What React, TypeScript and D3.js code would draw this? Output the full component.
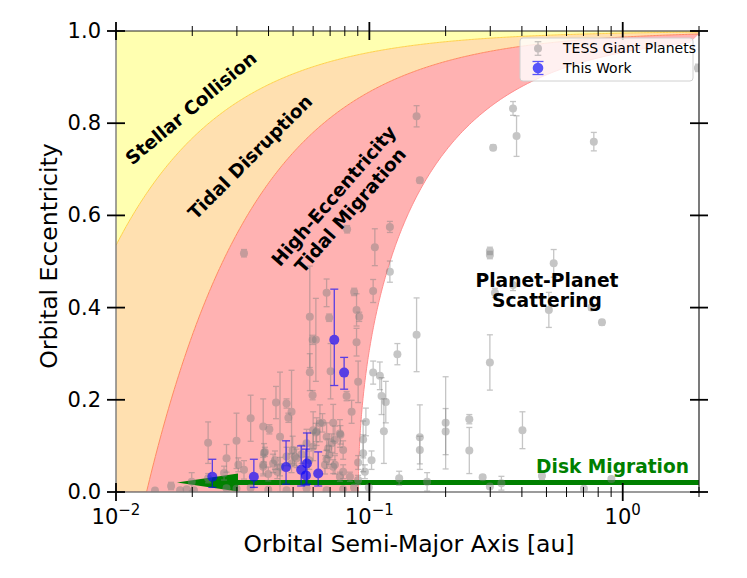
import React from 'react';
import * as d3 from 'd3';

// TESS giant planets (semi-major axis [au], eccentricity, 1-sigma error)
const tessA = [
  0.0320, 0.0817, 0.1205, 0.1051, 0.1536, 0.1582, 0.369, 0.381, 0.308, 0.769,
  1.98, 0.299, 0.299, 0.534, 0.1205, 0.313, 0.369, 0.511, 0.753, 0.828,
  0.1536, 0.129, 0.299, 0.110, 0.1117, 0.1161, 0.1141, 0.1582, 0.1582, 0.200,
  0.200, 0.248, 0.248, 0.402, 0.1311, 0.169, 0.280, 0.299, 0.332, 0.480,
  0.703, 0.902, 0.0678, 0.0871, 0.1035, 0.0890, 0.0912, 0.0694, 0.0582, 0.0615,
  0.0597, 0.0890, 0.0582, 0.0703, 0.0903, 0.0597, 0.0813, 0.1035, 0.0428, 0.0471,
  0.0493, 0.0479, 0.0340, 0.0851, 0.0381, 0.0403, 0.0231, 0.0299, 0.0273, 0.0387,
  0.0444, 0.0498, 0.0508, 0.0540, 0.0417, 0.0320, 0.0381, 0.0399, 0.0433, 0.0619,
  0.0678, 0.0720, 0.0765, 0.0788, 0.0688, 0.0600, 0.0579, 0.0678, 0.0720, 0.0765,
  0.0903, 0.0903, 0.0945, 0.0969, 0.0945, 0.102, 0.0960, 0.0267, 0.0231, 0.0165,
  0.01425, 0.0199, 0.0471, 0.0565, 0.0600, 0.0638, 0.0731, 0.0304, 0.0384, 0.0381,
  0.0179, 0.0190, 0.0203, 0.0653, 0.0615, 0.0769, 0.0710, 0.0424, 0.0516, 0.0694,
  0.0444, 0.0493, 0.0731, 0.0668, 0.0788, 0.0838, 0.0340, 0.0399, 0.0471, 0.0565,
  0.0678, 0.0788, 0.0273, 0.0299, 0.0870, 0.0995,
];
const tessE = [
  0.518, 0.570, 0.575, 0.531, 0.815, 0.676, 0.832, 0.772, 0.747, 0.760,
  0.920, 0.523, 0.514, 0.496, 0.478, 0.432, 0.449, 0.395, 0.400, 0.368,
  0.341, 0.299, 0.281, 0.252, 0.208, 0.195, 0.132, 0.119, 0.091, 0.150,
  0.131, 0.158, 0.090, 0.134, 0.030, 0.022, 0.032, 0.012, 0.019, 0.035,
  0.007, 0.028, 0.432, 0.434, 0.436, 0.395, 0.380, 0.378, 0.380, 0.330,
  0.330, 0.325, 0.260, 0.262, 0.239, 0.210, 0.208, 0.259, 0.194, 0.192,
  0.174, 0.161, 0.160, 0.174, 0.142, 0.136, 0.107, 0.111, 0.073, 0.087,
  0.120, 0.091, 0.077, 0.082, 0.062, 0.048, 0.055, 0.039, 0.044, 0.131,
  0.120, 0.150, 0.127, 0.091, 0.095, 0.098, 0.069, 0.071, 0.055, 0.033,
  0.064, 0.026, 0.114, 0.152, 0.084, 0.069, 0.044, 0.041, 0.030, 0.013,
  0.003, 0.022, 0.077, 0.106, 0.134, 0.149, 0.113, 0.059, 0.085, 0.059,
  0.004, 0.006, 0.004, 0.150, 0.129, 0.124, 0.106, 0.069, 0.073, 0.080,
  0.055, 0.062, 0.059, 0.059, 0.044, 0.033, 0.009, 0.005, 0.004, 0.008,
  0.004, 0.006, 0.008, 0.007, 0.010, 0.010,
];
const tessErr = [
  0.008, 0.008, 0.012, 0.040, 0.023, 0.006, 0.015, 0.044, 0.006, 0.020,
  0.008, 0.008, 0.008, 0.030, 0.023, 0.010, 0.012, 0.038, 0.006, 0.006,
  0.080, 0.023, 0.060, 0.030, 0.040, 0.045, 0.070, 0.070, 0.030, 0.100,
  0.050, 0.010, 0.050, 0.040, 0.015, 0.020, 0.005, 0.005, 0.015, 0.008,
  0.004, 0.005, 0.030, 0.008, 0.025, 0.035, 0.010, 0.008, 0.110, 0.090,
  0.010, 0.030, 0.040, 0.060, 0.045, 0.010, 0.010, 0.025, 0.035, 0.010,
  0.090, 0.010, 0.050, 0.025, 0.060, 0.010, 0.045, 0.060, 0.030, 0.010,
  0.140, 0.030, 0.020, 0.020, 0.020, 0.020, 0.020, 0.015, 0.015, 0.030,
  0.030, 0.040, 0.030, 0.020, 0.020, 0.030, 0.020, 0.020, 0.015, 0.010,
  0.015, 0.010, 0.040, 0.030, 0.040, 0.020, 0.015, 0.015, 0.010, 0.008,
  0.003, 0.020, 0.020, 0.030, 0.040, 0.040, 0.030, 0.015, 0.020, 0.020,
  0.003, 0.003, 0.003, 0.020, 0.020, 0.020, 0.020, 0.020, 0.020, 0.020,
  0.020, 0.020, 0.020, 0.020, 0.015, 0.010, 0.005, 0.004, 0.004, 0.005,
  0.004, 0.004, 0.005, 0.005, 0.006, 0.006,
];

// This work
const workA = [0.0240, 0.0350, 0.0469, 0.0538, 0.0562, 0.0567, 0.0628, 0.0727, 0.0795];
const workE = [0.033, 0.033, 0.054, 0.048, 0.036, 0.062, 0.040, 0.330, 0.259];
const workErrUp = [0.038, 0.038, 0.057, 0.052, 0.057, 0.066, 0.047, 0.110, 0.033];
const workErrDn = [0.023, 0.023, 0.037, 0.035, 0.021, 0.045, 0.027, 0.099, 0.036];

// region boundaries (au)
const R_SUN_AU = 0.00465;   // periastron = stellar radius
const Q_ROCHE = 0.0132;     // periastron = tidal disruption limit
const A_FINAL = 0.0905;     // a(1-e^2) for high-eccentricity migration

// disk migration arrow
const arrowFromA = 2.5;
const arrowToA = 0.0174;
const arrowHeadA = 0.0303;
const arrowE = 0.0206;
const arrowHeadHalf = 0.0195;
const arrowShaftHalf = 0.0055;

const xMajor = [0.01, 0.1, 1];
const xMajorExp = ['\u22122', '\u22121', '0'];
const yTicks = [0, 0.2, 0.4, 0.6, 0.8, 1.0];

const W = 747;
const H = 578;
const FONT = 'DejaVu Sans, sans-serif';

export default function App() {
  const x = d3.scaleLog().domain([0.01, 2]).range([116, 699]);
  const y = d3.scaleLinear().domain([0, 1]).range([492, 31]);
  const [x0, x1] = x.range();
  const [y0, y1] = y.range();

  const grid = d3.range(0, 401).map(i => 0.01 * Math.pow(200, i / 400));
  const eCol = (a: number) => Math.max(0, 1 - R_SUN_AU / a);
  const eRoche = (a: number) => Math.max(0, 1 - Q_ROCHE / a);

  const line = d3.line<[number, number]>();
  const pt = (a: number, e: number): [number, number] => [x(a), y(e)];

  // yellow: stellar collision (curve -> e=1)
  const yellow = [...grid.map(a => pt(a, eCol(a))), pt(2, 1), pt(0.01, 1)];
  // orange: tidal disruption (roche -> collision)
  const orange = [...grid.map(a => pt(a, eCol(a))), ...grid.slice().reverse().map(a => pt(a, eRoche(a)))];
  // red: high-e migration (track -> roche)
  const hemTrack: [number, number][] = d3.range(0, 201)
    .map(i => (i / 200) * 0.99)
    .map(e => [A_FINAL / (1 - e * e), e] as [number, number])
    .filter(d => d[0] <= 2.2);
  const red = [
    pt(0.01, 0),
    ...hemTrack.map(d => pt(d[0], d[1])),
    ...grid.slice().reverse().map(a => pt(a, eRoche(a))),
  ];

  const xMinor: number[] = [];
  [0.01, 0.1, 1].forEach(k => d3.range(2, 10).forEach(m => { if (m * k <= 2.0001) xMinor.push(m * k); }));

  const arrowPts: [number, number][] = [
    pt(arrowToA, arrowE),
    pt(arrowHeadA, arrowE + arrowHeadHalf),
    pt(arrowHeadA, arrowE + arrowShaftHalf),
    pt(arrowFromA, arrowE + arrowShaftHalf),
    pt(arrowFromA, arrowE - arrowShaftHalf),
    pt(arrowHeadA, arrowE - arrowShaftHalf),
    pt(arrowHeadA, arrowE - arrowHeadHalf),
  ];

  return (
    <svg width={W} height={H} style={{ position: 'absolute', left: 0, top: 0, background: '#fff' }} fontFamily={FONT}>
      <defs>
        <clipPath id="plot">
          <rect x={x0} y={y1} width={x1 - x0} height={y0 - y1} />
        </clipPath>
      </defs>
      <g clipPath="url(#plot)">
        <path d={line(yellow) + 'Z'} fill="#ffffb0" />
        <path d={line(orange) + 'Z'} fill="#ffe0b0" />
        <path d={line(red) + 'Z'} fill="#ffb2b2" />
        <path d={line(grid.map(a => pt(a, eCol(a))))!} fill="none" stroke="#ffd24a" strokeWidth={1} />
        <path d={line(grid.map(a => pt(a, eRoche(a))))!} fill="none" stroke="#ff8a60" strokeWidth={1} />
        <path d={line(hemTrack.map(d => pt(d[0], d[1])))!} fill="none" stroke="#ff8c8c" strokeWidth={1} />

        <path d={line(arrowPts) + 'Z'} fill="#008000" />

        {tessA.map((a, i) => {
          const cx = x(a);
          const lo = y(Math.max(0, tessE[i] - tessErr[i]));
          const hi = y(tessE[i] + tessErr[i]);
          return (
            <g key={'t' + i} opacity={0.45}>
              <line x1={cx} x2={cx} y1={lo} y2={hi} stroke="#808080" strokeWidth={1.3} />
              <line x1={cx - 3} x2={cx + 3} y1={lo} y2={lo} stroke="#808080" strokeWidth={1.3} />
              <line x1={cx - 3} x2={cx + 3} y1={hi} y2={hi} stroke="#808080" strokeWidth={1.3} />
              <circle cx={cx} cy={y(tessE[i])} r={4} fill="#808080" />
            </g>
          );
        })}

        {workA.map((a, i) => {
          const cx = x(a);
          const lo = y(workE[i] - workErrDn[i]);
          const hi = y(workE[i] + workErrUp[i]);
          return (
            <g key={'w' + i} opacity={0.65}>
              <line x1={cx} x2={cx} y1={lo} y2={hi} stroke="#0000ff" strokeWidth={1.3} />
              <line x1={cx - 4} x2={cx + 4} y1={lo} y2={lo} stroke="#0000ff" strokeWidth={1.3} />
              <line x1={cx - 4} x2={cx + 4} y1={hi} y2={hi} stroke="#0000ff" strokeWidth={1.3} />
              <circle cx={cx} cy={y(workE[i])} r={5} fill="#0000ff" />
            </g>
          );
        })}
      </g>

      {/* region labels */}
      <g fontWeight="bold" fontSize={18.5} fill="#000" textAnchor="middle" dominantBaseline="central">
        <text transform="translate(191,108) rotate(-40)">Stellar Collision</text>
        <text transform="translate(250,157) rotate(-45)">Tidal Disruption</text>
        <g transform="translate(342,203) rotate(-49)">
          <text y={-11}>High-Eccentricity</text>
          <text y={11}>Tidal Migration</text>
        </g>
      </g>
      <g fontWeight="bold" fontSize={18.7} textAnchor="middle">
        <text x={547} y={287}>Planet-Planet</text>
        <text x={547} y={307}>Scattering</text>
      </g>
      <text x={689} y={473} textAnchor="end" fontWeight="bold" fontSize={18.6} fill="#008000">Disk Migration</text>

      {/* spines */}
      <line x1={x0} x2={x0} y1={y0} y2={y1} stroke="#7a7a7a" strokeWidth={1.4} />
      <line x1={x0} x2={x1} y1={y0} y2={y0} stroke="#7a7a7a" strokeWidth={1.4} />
      <line x1={x0} x2={x1} y1={y1} y2={y1} stroke="#222" strokeWidth={1.2} />
      <line x1={x1} x2={x1} y1={y0} y2={y1} stroke="#222" strokeWidth={1.2} />

      {/* ticks */}
      {xMinor.map(v => (
        <g key={'mn' + v} stroke="#000" strokeWidth={1}>
          <line x1={x(v)} x2={x(v)} y1={y0 - 5} y2={y0 + 5} />
          <line x1={x(v)} x2={x(v)} y1={y1 - 5} y2={y1 + 5} />
        </g>
      ))}
      {xMajor.map((v, i) => (
        <g key={'mj' + v}>
          <line x1={x(v)} x2={x(v)} y1={y0 - 9} y2={y0 + 9} stroke="#000" strokeWidth={1.8} />
          <line x1={x(v)} x2={x(v)} y1={y1 - 9} y2={y1 + 9} stroke="#000" strokeWidth={1.8} />
          <text x={x(v)} y={524} fontSize={21} textAnchor="middle">
            10<tspan fontSize={15} dy={-9}>{xMajorExp[i]}</tspan>
          </text>
        </g>
      ))}
      {yTicks.map(v => (
        <g key={'y' + v}>
          <line x1={x0 - 9} x2={x0 + 9} y1={y(v)} y2={y(v)} stroke="#000" strokeWidth={1.8} />
          <line x1={x1 - 9} x2={x1 + 9} y1={y(v)} y2={y(v)} stroke="#000" strokeWidth={1.8} />
          <text x={101} y={y(v)} fontSize={21} textAnchor="end" dominantBaseline="central">{v.toFixed(1)}</text>
        </g>
      ))}

      {/* axis labels */}
      <text x={409} y={552} fontSize={23.5} textAnchor="middle">Orbital Semi-Major Axis [au]</text>
      <text transform="translate(49,256) rotate(-90)" fontSize={23.5} textAnchor="middle" dominantBaseline="central">Orbital Eccentricity</text>

      {/* legend */}
      <g>
        <rect x={520} y={38} width={173} height={43} rx={3} fill="#fff" fillOpacity={0.8} stroke="#d0d0d0" strokeWidth={1} />
        <g opacity={0.45} stroke="#808080" strokeWidth={1.3}>
          <line x1={538} x2={538} y1={41.7} y2={55.3} />
          <line x1={534.7} x2={541.3} y1={41.7} y2={41.7} />
          <line x1={534.7} x2={541.3} y1={55.3} y2={55.3} />
          <circle cx={538} cy={48.5} r={4} fill="#808080" stroke="none" />
        </g>
        <g opacity={0.65} stroke="#0000ff" strokeWidth={1.3}>
          <line x1={538} x2={538} y1={61.5} y2={74.5} />
          <line x1={532.5} x2={543.5} y1={61.5} y2={61.5} />
          <line x1={532.5} x2={543.5} y1={74.5} y2={74.5} />
          <circle cx={538} cy={68} r={5.3} fill="#0000ff" stroke="none" />
        </g>
        <text x={563} y={53.3} fontSize={14}>TESS Giant Planets</text>
        <text x={563} y={72.7} fontSize={14}>This Work</text>
      </g>
    </svg>
  );
}
